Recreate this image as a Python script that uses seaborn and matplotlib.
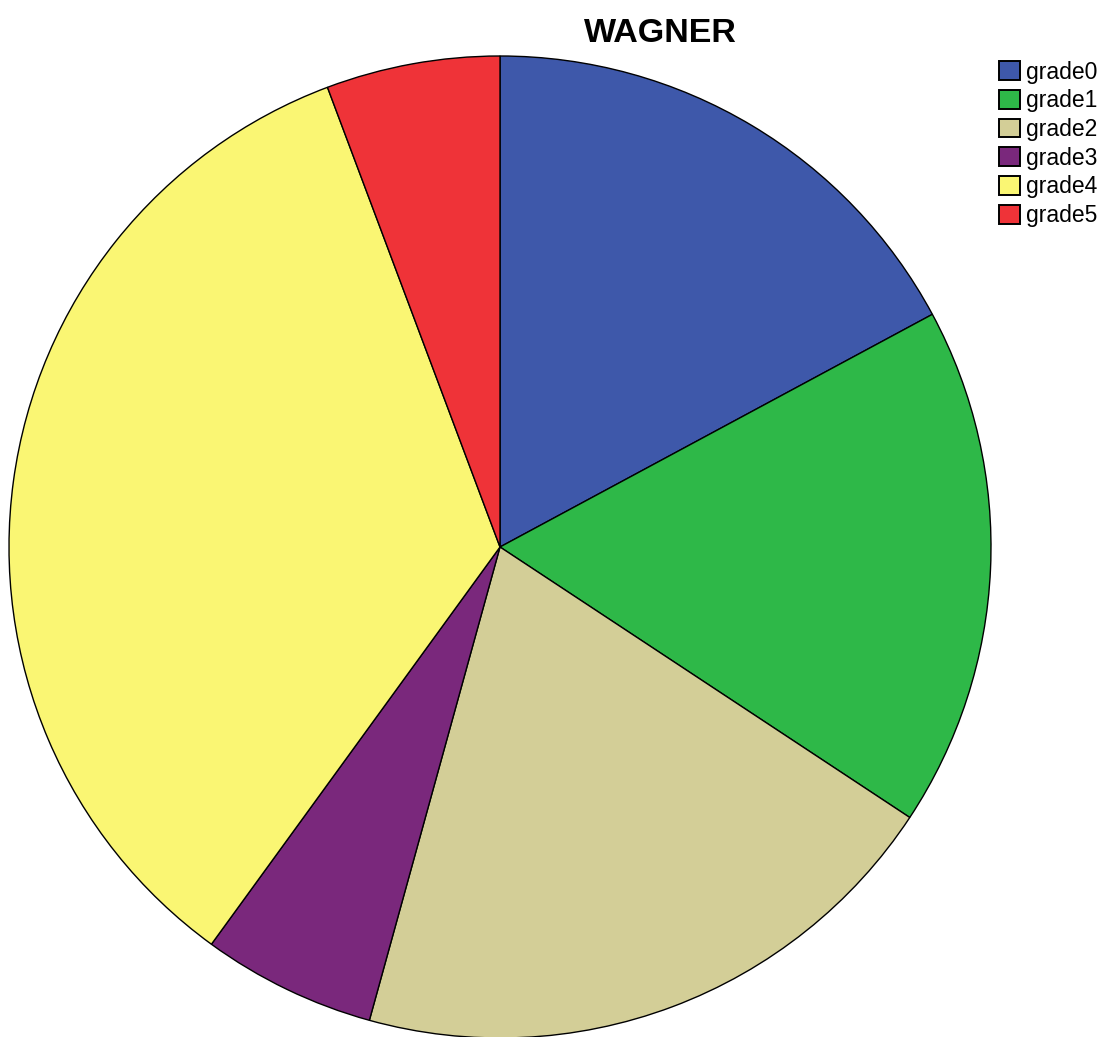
import matplotlib
matplotlib.use("Agg")
import matplotlib.pyplot as plt
from matplotlib.patches import Rectangle
import seaborn as sns

# Wagner grade counts
grades = ["grade0", "grade1", "grade2", "grade3", "grade4", "grade5"]
counts = [6, 6, 7, 2, 12, 2]
grade_colors = ["#3E58AA", "#2EB848", "#D3CE97", "#7A287C", "#FAF673", "#EF3338"]

sns.set_theme(style="white")
plt.rcParams["font.family"] = ["Liberation Sans", "DejaVu Sans"]

W, H = 1104, 1037
fig = plt.figure(figsize=(W / 100, H / 100), dpi=100)

# Square axes holding the unit-radius pie
cx, cy, r = 500, 547, 491
ax = fig.add_axes([(cx - r) / W, (H - cy - r) / H, 2 * r / W, 2 * r / H])
palette = sns.color_palette(grade_colors)
ax.pie(counts, colors=palette, startangle=90, counterclock=False, radius=1,
       wedgeprops=dict(edgecolor="black", linewidth=1.0))
ax.set_xlim(-1, 1)
ax.set_ylim(-1, 1)
ax.set_aspect("equal")
ax.axis("off")

fig.text(660 / W, 1 - 42 / H, "WAGNER", ha="center", va="baseline",
         fontsize=24.5, fontweight="bold", color="black")

handles = [Rectangle((0, 0), 1, 1, facecolor=c, edgecolor="black", linewidth=1.4)
           for c in palette]
fig.legend(handles, grades, loc="upper left", bbox_to_anchor=(999 / W, 1 - 60.5 / H),
           frameon=False, fontsize=16.5, labelcolor="black",
           borderpad=0, borderaxespad=0,
           handlelength=0.92, handleheight=0.87, handletextpad=0.25, labelspacing=0.25)

fig.savefig("out.png", dpi=100)
